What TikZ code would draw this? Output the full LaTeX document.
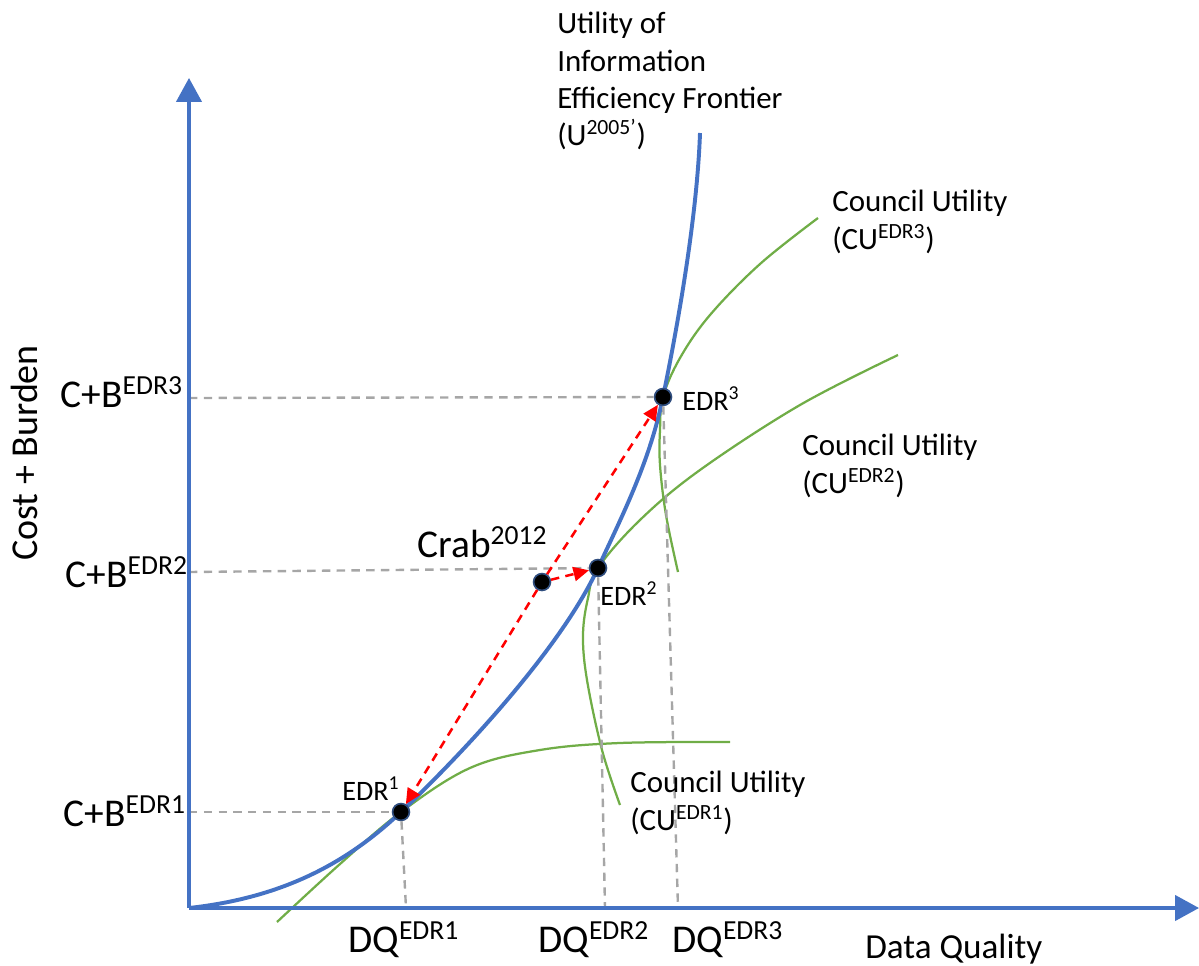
\documentclass[tikz,border=0pt]{standalone}
\usepackage{fontspec}
\setmainfont{Carlito}
\usetikzlibrary{arrows.meta}
\definecolor{axisblue}{HTML}{4472C4}
\definecolor{cugreen}{HTML}{70AD47}
\definecolor{guidegray}{HTML}{A6A6A6}
\definecolor{dotrim}{HTML}{2F4D7E}

\begin{document}
\begin{tikzpicture}[x=0.025cm, y=-0.025cm,
  axis/.style = {draw=axisblue, line width=2.2pt, -{Triangle[width=18pt,length=17pt]}},
  frontier/.style = {draw=axisblue, line width=2.8pt},
  utility/.style = {draw=cugreen, line width=1.6pt},
  guide/.style = {draw=guidegray, line width=1.7pt, dash pattern=on 6pt off 4.5pt},
  move/.style = {draw=red, line width=1.8pt, dash pattern=on 6pt off 4.5pt, -{Triangle[width=10pt,length=11pt]}},
  point/.style = {circle, fill=black, draw=dotrim, line width=1.2pt, minimum size=12pt, inner sep=0pt},
  lbl/.style = {font=\fontsize{22}{26.5}\selectfont, inner sep=0pt},
  small/.style = {font=\fontsize{20}{24}\selectfont, inner sep=0pt},
  big/.style = {font=\fontsize{28}{32}\selectfont, inner sep=0pt}
]
\useasboundingbox (0,0) rectangle (1199,966);

\coordinate (o) at (189,908);
\coordinate (ytip) at (189,78);
\coordinate (xtip) at (1199,908);
\coordinate (top) at (700,133);
\coordinate (e1) at (401,812);
\coordinate (e2) at (598,568);
\coordinate (e3) at (663,397);
\coordinate (cr) at (542,582);

% guide lines
\coordinate (cb1) at (189,812);
\coordinate (cb2) at (189,572);
\coordinate (cb3) at (189,398);
\coordinate (dq1) at (406,908);
\coordinate (dq2) at (605,908);
\coordinate (dq3) at (678,908);

% utility curves
\draw[utility] plot[smooth, tension=0.6] coordinates {(277,922) (340,864) (e1) (470,768) (540,750) (620,743) (730,742)};
\draw[utility] plot[smooth, tension=0.6] coordinates {(620,805) (602,750) (587,680) (583,635) (588,598) (e2) (640,520) (700,470) (800,405) (898,355)};
\draw[utility] plot[smooth, tension=0.6] coordinates {(678,572) (666,515) (660,465) (660,430) (e3) (680,358) (710,315) (760,264) (818,218)};

% efficiency frontier
\draw[frontier] (o) .. controls (280,898) and (345,865) .. (e1)
  .. controls (460,756) and (560,650) .. (e2)
  .. controls (625,510) and (650,460) .. (e3)
  .. controls (676,334) and (697,220) .. (top);

\node[point] (edr1) at (e1) {};
\node[point] (edr2) at (e2) {};
\node[point] (edr3) at (e3) {};
\node[point] (crab) at (cr) {};

\draw[guide] (cb1) -- (edr1);
\draw[guide] (cb2) -- (edr2);
\draw[guide] (cb3) -- (edr3);
\draw[guide] (edr1) -- (dq1);
\draw[guide] (edr2) -- (dq2);
\draw[guide] (edr3) -- (dq3);

\draw[move] (crab) -- (edr1);
\draw[move] (crab) -- (edr3);
\draw[move] (crab) -- (edr2);

\draw[axis] (o) -- (ytip);
\draw[axis] (o) -- (xtip);

% labels
\node[lbl, anchor=north west, align=left] (ulabel) at (557,12) {Utility of\\Information\\Efficiency Frontier\\(U\textsuperscript{2005’})};
\node[lbl, anchor=north west, align=left] (cu3) at (832,190) {Council Utility\\(CU\textsuperscript{EDR3})};
\node[lbl, anchor=north west, align=left] (cu2) at (802,434) {Council Utility\\(CU\textsuperscript{EDR2})};
\node[lbl, anchor=north west, align=left] (cu1) at (630,771) {Council Utility\\(CU\textsuperscript{EDR1})};

\node[small, anchor=base west] (t3) at (682,410) {EDR\textsuperscript{3}};
\node[small, anchor=base west] (t2) at (600,605) {EDR\textsuperscript{2}};
\node[small, anchor=base west] (t1) at (342,800) {EDR\textsuperscript{1}};
\node[big, anchor=base west] (tcrab) at (417,557) {Crab\textsuperscript{2012}};

\node[big, anchor=base east] (b3) at (183,407) {C+B\textsuperscript{EDR3}};
\node[big, anchor=base east] (b2) at (188,587) {C+B\textsuperscript{EDR2}};
\node[big, anchor=base east] (b1) at (186,826) {C+B\textsuperscript{EDR1}};

\node[big, anchor=base west] (q1) at (348,952) {DQ\textsuperscript{EDR1}};
\node[big, anchor=base west] (q2) at (538,952) {DQ\textsuperscript{EDR2}};
\node[big, anchor=base west] (q3) at (672,952) {DQ\textsuperscript{EDR3}};

\node[lbl, font=\fontsize{25}{30}\selectfont, anchor=base west] (xlab) at (865,958) {Data Quality};
\node[lbl, font=\fontsize{27}{32}\selectfont, rotate=90, anchor=base] (ylab) at (37,453) {Cost + Burden};
\end{tikzpicture}
\end{document}
